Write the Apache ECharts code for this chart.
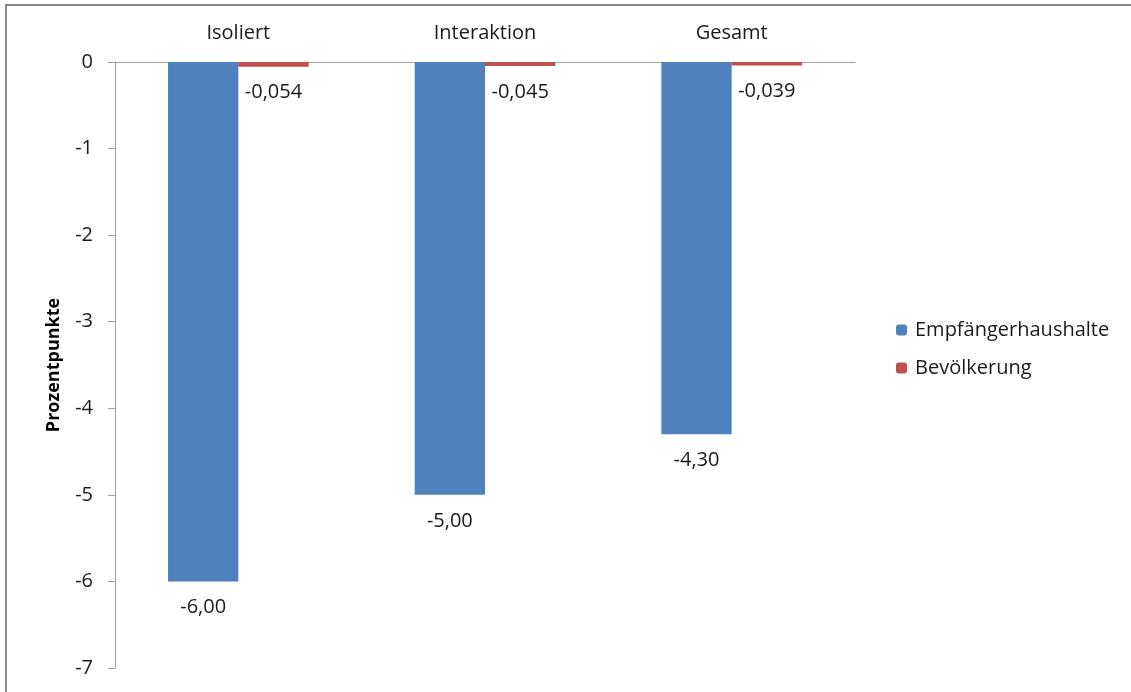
<!DOCTYPE html>
<html><head><meta charset="utf-8">
<script src="https://cdn.jsdelivr.net/npm/echarts@6/dist/echarts.min.js"></script>
<style>html,body{margin:0;padding:0;background:#fff}#c{width:1131px;height:692px}</style>
</head><body><div id="c"></div>
<script>
const categories = ["Isoliert", "Interaktion", "Gesamt"];
const seriesNames = ["Empfängerhaushalte", "Bevölkerung"];
const empfaenger = [-6.00, -5.00, -4.30];
const bevoelkerung = [-0.054, -0.045, -0.039];
const yTicks = { min: -7, max: 0, interval: 1 };
const FONT = "'Open Sans', 'Noto Sans', sans-serif";
const FS = 20;
const fmt = (v, d) => v.toFixed(d).replace('.', ',');

const chart = echarts.init(document.getElementById('c'));
chart.setOption({
  animation: false,
  textStyle: { fontFamily: FONT },
  graphic: [{ type: 'rect', shape: { x: 6, y: 5, width: 1300, height: 900 }, style: { fill: 'none', stroke: '#8a8a8a', lineWidth: 2 }, silent: true }],
  grid: { left: 115, top: 62, width: 740, height: 606, containLabel: false },
  legend: {
    orient: 'vertical', left: 891, top: 315, itemWidth: 11, itemHeight: 11, itemGap: 18,
    textStyle: { fontSize: FS, color: '#1a1a1a', fontFamily: FONT, padding: [0, 0, 0, 3] },
    data: seriesNames
  },
  xAxis: {
    type: 'category', position: 'top', data: categories,
    axisLine: { lineStyle: { color: '#a0a0a0', width: 1 } },
    axisTick: { inside: true, length: 6, lineStyle: { color: '#a0a0a0' } },
    axisLabel: { fontSize: FS, color: '#1a1a1a', margin: 19 }
  },
  yAxis: {
    type: 'value', min: yTicks.min, max: yTicks.max, interval: yTicks.interval,
    name: 'Prozentpunkte', nameLocation: 'middle', nameGap: 52, nameRotate: 90,
    nameTextStyle: { fontSize: 18, fontWeight: 'bold', color: '#000' },
    splitLine: { show: false },
    axisLine: { show: true, lineStyle: { color: '#a0a0a0' } },
    axisTick: { show: true, length: 7, lineStyle: { color: '#a0a0a0' } },
    axisLabel: { fontSize: FS, color: '#1a1a1a', margin: 22 }
  },
  series: [
    { name: seriesNames[0], type: 'bar', data: empfaenger, barGap: '0%', barCategoryGap: '43%',
      itemStyle: { color: '#4f81bd' },
      label: { show: true, position: 'bottom', distance: 16, fontSize: FS, color: '#1a1a1a', formatter: p => fmt(p.value, 2) } },
    { name: seriesNames[1], type: 'bar', data: bevoelkerung,
      itemStyle: { color: '#c0504d' },
      label: { show: true, position: 'bottom', distance: 16, fontSize: FS, color: '#1a1a1a', formatter: p => fmt(p.value, 3) } }
  ]
});
</script></body></html>
